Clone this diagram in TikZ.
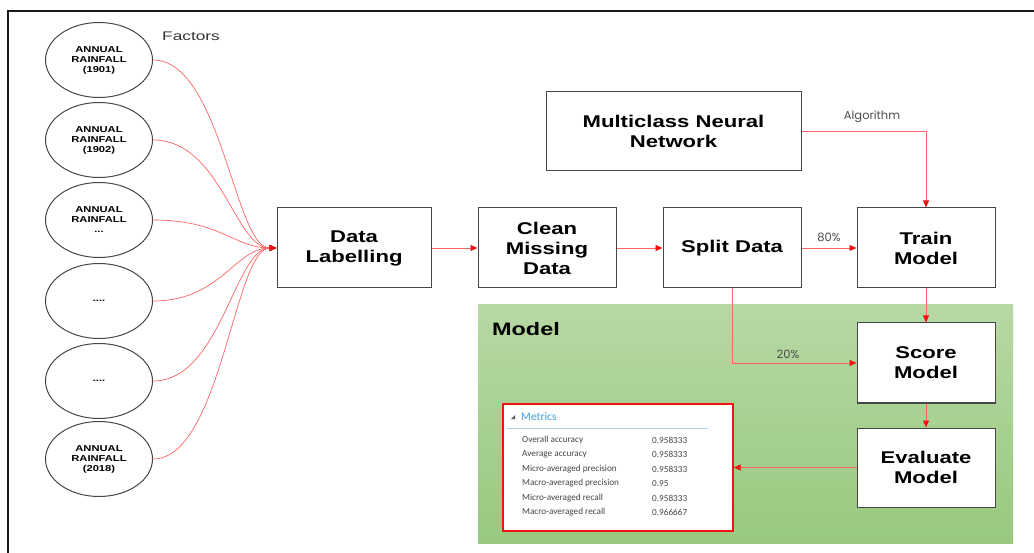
\documentclass[tikz,border=0pt]{standalone}
\usepackage{fontspec}
\setmainfont{Liberation Sans}
\newfontfamily\wideFont{Liberation Sans}[FakeStretch=1.3]
\newfontfamily\factorFont{Liberation Sans}[FakeStretch=1.38]
\newfontfamily\geoFont{Poppins}
\newfontfamily\uiFont{Carlito}
\usetikzlibrary{arrows.meta,shapes.geometric,calc}

\definecolor{linkred}{RGB}{255,100,100}
\definecolor{tipred}{RGB}{240,20,20}
\definecolor{boxgray}{RGB}{70,70,70}
\definecolor{greenTop}{RGB}{183,216,163}
\definecolor{greenBot}{RGB}{152,201,127}
\definecolor{metricBlue}{RGB}{60,158,222}
\definecolor{metricRule}{RGB}{170,212,238}
\definecolor{metricText}{RGB}{70,70,70}

\tikzset{
  stepbox/.style={draw=boxgray, line width=1pt, fill=white, rectangle,
    inner sep=0pt, align=center,
    font=\wideFont\bfseries\fontsize{17}{20}\selectfont},
  factor/.style={draw=boxgray, line width=1pt, fill=white, ellipse,
    minimum width=107pt, minimum height=75pt, inner sep=0pt, align=center,
    font=\wideFont\bfseries\fontsize{8.6}{10}\selectfont},
  link/.style={draw=linkred, line width=0.8pt,
    -{Triangle[length=7pt,width=6pt,color=tipred]}},
  curvelink/.style={draw=linkred, line width=0.7pt,
    -{Triangle[length=7pt,width=6pt,color=tipred]}},
  edgelabel/.style={font=\geoFont\fontsize{11.5}{13}\selectfont, text=black!70},
  metricrow/.style={anchor=west, font=\uiFont\fontsize{9.2}{11}\selectfont,
    text=metricText, inner sep=0pt},
}

\begin{document}
\begin{tikzpicture}[x=1pt,y=-1pt]
\useasboundingbox (0,0) rectangle (1034,553);

% outer frame (top and left edges)
\draw[line width=2pt, black!90] (1034,11) -- (8,11) -- (8,553);

% shaded model area
\shade[top color=greenTop, bottom color=greenBot] (478,305) rectangle (1013,543);
\node[anchor=west, font=\wideFont\bfseries\fontsize{18}{20}\selectfont, inner sep=0pt]
  (modeltitle) at (492,329) {Model};

% input factors
\node[factor] (f1) at (99,60)  {ANNUAL\\RAINFALL\\(1901)};
\node[factor] (f2) at (99,140) {ANNUAL\\RAINFALL\\(1902)};
\node[factor] (f3) at (99,220) {ANNUAL\\RAINFALL\\...};
\node[factor] (f4) at (99,301) {....};
\node[factor] (f5) at (99,381) {....};
\node[factor] (f6) at (99,459) {ANNUAL\\RAINFALL\\(2018)};
\node[anchor=center, font=\factorFont\fontsize{12.5}{14}\selectfont, text=black!80]
  (factors) at (191,36) {Factors};

% pipeline boxes
\node[stepbox, minimum width=154pt, minimum height=80pt] (dl)  at (354,248) {Data\\Labelling};
\node[stepbox, minimum width=138pt, minimum height=80pt] (cm)  at (547,248) {Clean\\Missing\\Data};
\node[stepbox, minimum width=138pt, minimum height=80pt] (sd)  at (732,248) {Split Data};
\node[stepbox, minimum width=138pt, minimum height=80pt] (tm)  at (926,248) {Train\\Model};
\node[stepbox, minimum width=255pt, minimum height=79pt] (mnn) at (673.5,131.5) {Multiclass Neural\\Network};
\node[stepbox, minimum width=138pt, minimum height=80pt] (sm)  at (926,363) {Score\\Model};
\node[stepbox, minimum width=138pt, minimum height=79pt] (em)  at (926,467.5) {Evaluate\\Model};

% metrics panel
\node[draw=tipred, line width=1.3pt, fill=white, minimum width=230pt, minimum height=127pt,
  inner sep=0pt] (metrics) at (618,467.5) {};
\fill[black!65] (511,419) -- (515,415) -- (515,419) -- cycle;
\node[anchor=west, font=\uiFont\fontsize{11.5}{13}\selectfont, text=metricBlue, inner sep=0pt]
  (mtitle) at (521,416.5) {Metrics};
\draw[metricRule, line width=0.8pt] (507,428) -- (708,428);
\foreach \lab/\val [count=\i] in {Overall accuracy/0.958333, Average accuracy/0.958333,
    Micro-averaged precision/0.958333, Macro-averaged precision/0.95,
    Micro-averaged recall/0.958333, Macro-averaged recall/0.966667}{
  \node[metricrow] (ml\i) at (522,{425.5+14.5*\i}) {\lab};
  \node[metricrow] (mv\i) at (652,{425.5+14.5*\i}) {\val};
}

% factor curves into the labelling step
\foreach \f in {f1,f2,f3,f4,f5,f6}{
  \draw[curvelink] (\f.east) .. controls +(68,0) and +(-42,0) .. (dl.west);
}

% pipeline connectors
\draw[link] (dl.east) -- (cm.west);
\draw[link] (cm.east) -- (sd.west);
\draw[link] (sd.east) -- node[edgelabel, above=3pt] (l80) {80\%} (tm.west);
\draw[link] (mnn.east) -| (tm.north);
\node[edgelabel] (lalg) at (872,117) {Algorithm};
\draw[link] (sd.south) |- (sm.west);
\node[edgelabel] (l20) at (788,354) {20\%};
\draw[link] (tm.south) -- (sm.north);
\draw[link] (sm.south) -- (em.north);
\draw[link] (em.west) -- (metrics.east);
\end{tikzpicture}
\end{document}
